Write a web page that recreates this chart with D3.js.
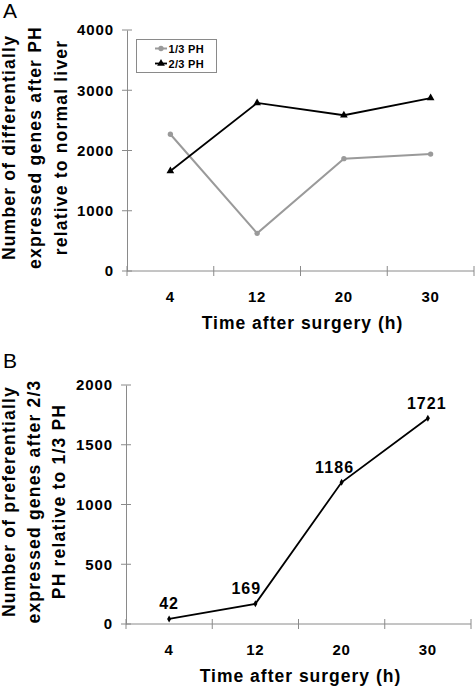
<!DOCTYPE html>
<html>
<head>
<meta charset="utf-8">
<script src="https://cdn.jsdelivr.net/npm/d3@7"></script>
<style>
  html, body { margin: 0; padding: 0; background: #fff; }
  svg { display: block; }
  text { font-family: "Liberation Sans", Arial, Helvetica, sans-serif; }
</style>
</head>
<body>
<svg id="chart" width="475" height="691"></svg>
<script>
// ---- data ----
const timePoints = ["4", "12", "20", "30"];
const seriesNames = ["1/3 PH", "2/3 PH"];
const onethirdPH = [2270, 626, 1865, 1940];
const twothirdPH = [1660, 2790, 2585, 2870];
const preferential = [42, 169, 1186, 1721];
const ticksA = [0, 1000, 2000, 3000, 4000];
const ticksB = [0, 500, 1000, 1500, 2000];
const titleA = ["Number of differentially", "expressed genes after PH", "relative to normal liver"];
const titleB = ["Number of preferentially", "expressed genes after 2/3", "PH relative to 1/3 PH"];
const xTitle = "Time after surgery (h)";
// label nudges (styling only)
const labelDx = [0, -9, -7, -1];

const svg = d3.select("#chart");
const axisColor = "#8a8a8a";

function panel(cfg) {
  const g = svg.append("g");
  const x = d3.scaleBand().domain(timePoints).range([cfg.left, cfg.right]);
  const y = d3.scaleLinear().domain(cfg.domain).range([cfg.bottom, cfg.top]);

  // panel letter
  g.append("text").attr("x", 3).attr("y", cfg.letterY)
    .attr("font-size", 21).attr("fill", "#000").text(cfg.letter);

  // y axis
  const ya = g.append("g").attr("transform", `translate(${cfg.left},0)`)
    .call(d3.axisLeft(y).tickValues(cfg.ticks).tickSize(0).tickPadding(13).tickFormat(d3.format("d")));
  ya.select(".domain").attr("stroke", axisColor);
  ya.selectAll("text").attr("font-size", 15).attr("font-weight", "bold")
    .attr("letter-spacing", 0.9).attr("fill", "#000").attr("font-family", null);
  // crossing y ticks
  g.append("g").selectAll("line").data(cfg.ticks).join("line")
    .attr("x1", cfg.left - 5).attr("x2", cfg.left + 5)
    .attr("y1", d => y(d)).attr("y2", d => y(d))
    .attr("stroke", axisColor);

  // x axis
  g.append("line").attr("x1", cfg.left).attr("x2", cfg.right)
    .attr("y1", y(0)).attr("y2", y(0)).attr("stroke", axisColor);
  const bounds = timePoints.map(d => x(d)).concat([cfg.right]);
  g.append("g").selectAll("line").data(bounds).join("line")
    .attr("x1", d => d).attr("x2", d => d)
    .attr("y1", y(0) - 5).attr("y2", y(0) + 5)
    .attr("stroke", axisColor);
  g.append("g").selectAll("text").data(timePoints).join("text")
    .attr("x", d => x(d) + x.bandwidth() / 2)
    .attr("y", y(0) + 31)
    .attr("text-anchor", "middle").attr("font-size", 15).attr("font-weight", "bold")
    .attr("letter-spacing", 0.9)
    .text(d => d);

  // x title
  g.append("text").attr("x", cfg.left + (cfg.right - cfg.left) / 2 + 2)
    .attr("y", y(0) + 58)
    .attr("text-anchor", "middle").attr("font-size", 17.5).attr("font-weight", "bold")
    .attr("letter-spacing", 1)
    .text(xTitle);

  // y title (rotated, three lines)
  const cy = (cfg.top + cfg.bottom) / 2 - 3;
  cfg.yTitle.forEach((line, i) => {
    const bx = cfg.titleX[i];
    g.append("text")
      .attr("transform", `translate(${bx},${cy}) rotate(-90)`)
      .attr("text-anchor", "middle").attr("font-size", 17.5).attr("font-weight", "bold")
      .attr("letter-spacing", 1.2)
      .text(line);
  });

  return { g, x, y };
}

// ---- Panel A ----
const A = panel({
  letter: "A", letterY: 18, left: 127, right: 474, top: 30, bottom: 271,
  domain: [0, 4000], ticks: ticksA, yTitle: titleA, titleX: [15, 41, 67]
});
{
  const { g, x, y } = A;
  const cx = d => x(d) + x.bandwidth() / 2;
  const line = d3.line().x((d, i) => cx(timePoints[i])).y(d => y(d));
  g.append("path").datum(onethirdPH).attr("d", line)
    .attr("fill", "none").attr("stroke", "#9a9a9a").attr("stroke-width", 2);
  g.append("path").datum(twothirdPH).attr("d", line)
    .attr("fill", "none").attr("stroke", "#000").attr("stroke-width", 1.8);
  g.append("g").selectAll("path").data(onethirdPH).join("path")
    .attr("transform", (d, i) => `translate(${cx(timePoints[i])},${y(d)})`)
    .attr("d", d3.symbol(d3.symbolCircle, 22)).attr("fill", "#9a9a9a");
  g.append("g").selectAll("path").data(twothirdPH).join("path")
    .attr("transform", (d, i) => `translate(${cx(timePoints[i])},${y(d)})`)
    .attr("d", d3.symbol(d3.symbolTriangle, 26)).attr("fill", "#000");

  // legend
  const lg = g.append("g");
  lg.append("rect").attr("x", 136.5).attr("y", 39.5).attr("width", 80).attr("height", 33)
    .attr("fill", "#fff").attr("stroke", axisColor);
  const legColors = ["#9a9a9a", "#000"];
  const legSym = [d3.symbolCircle, d3.symbolTriangle];
  const legSize = [22, 26];
  seriesNames.forEach((name, i) => {
    const ly = 48.5 + i * 15;
    lg.append("line").attr("x1", 155).attr("x2", 167).attr("y1", ly).attr("y2", ly)
      .attr("stroke", legColors[i]).attr("stroke-width", i === 0 ? 2 : 1.8);
    lg.append("path").attr("transform", `translate(161,${ly})`)
      .attr("d", d3.symbol(legSym[i], legSize[i])).attr("fill", legColors[i]);
    lg.append("text").attr("x", 168.5).attr("y", ly + 4)
      .attr("font-size", 11).attr("font-weight", "bold").attr("letter-spacing", 0.3)
      .text(name);
  });
}

// ---- Panel B ----
const B = panel({
  letter: "B", letterY: 368, left: 126, right: 471, top: 385, bottom: 624,
  domain: [0, 2000], ticks: ticksB, yTitle: titleB, titleX: [14.5, 39.5, 65]
});
{
  const { g, x, y } = B;
  const cx = d => x(d) + x.bandwidth() / 2;
  const line = d3.line().x((d, i) => cx(timePoints[i])).y(d => y(d));
  g.append("path").datum(preferential).attr("d", line)
    .attr("fill", "none").attr("stroke", "#000").attr("stroke-width", 1.8);
  g.append("g").selectAll("path").data(preferential).join("path")
    .attr("transform", (d, i) => `translate(${cx(timePoints[i])},${y(d)})`)
    .attr("d", d3.symbol(d3.symbolDiamond, 14)).attr("fill", "#000");
  g.append("g").selectAll("text").data(preferential).join("text")
    .attr("x", (d, i) => cx(timePoints[i]) + labelDx[i])
    .attr("y", d => y(d) - 9.5)
    .attr("text-anchor", "middle").attr("font-size", 16).attr("font-weight", "bold")
    .attr("letter-spacing", 1.1)
    .text(d => d);
}
</script>
</body>
</html>
